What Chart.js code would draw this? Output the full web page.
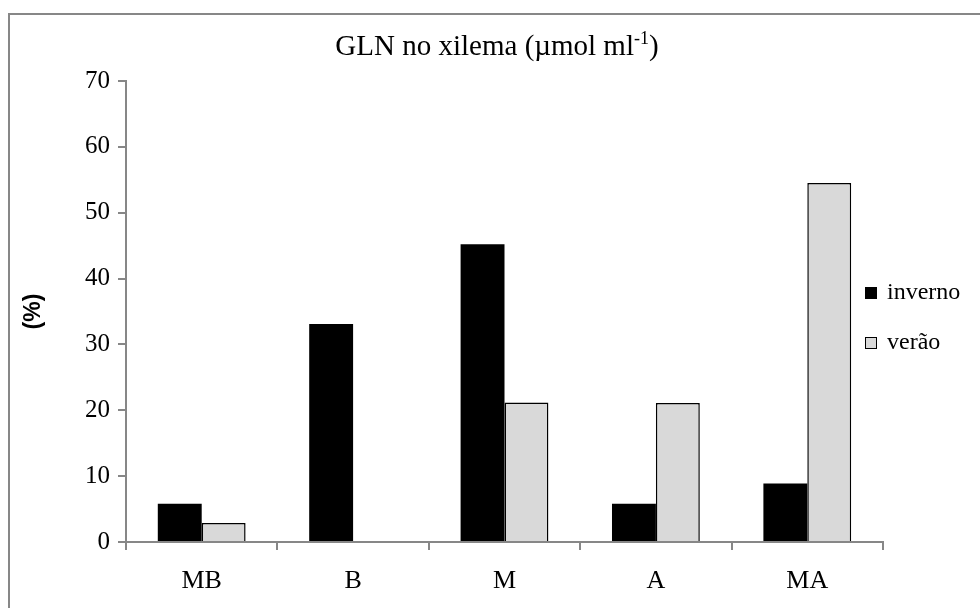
<!DOCTYPE html>
<html>
<head>
<meta charset="utf-8">
<script src="https://cdn.jsdelivr.net/npm/chart.js@4.4.1/dist/chart.umd.min.js"></script>
<style>
  html, body { margin: 0; padding: 0; background: #fff; overflow: hidden; }
  #wrap { position: relative; width: 980px; height: 608px; }
  #frame { position: absolute; left: 8px; top: 13px; width: 1200px; height: 800px;
           border-top: 2px solid #878787; border-left: 2px solid #878787; }
  canvas { position: absolute; left: 0; top: 0; }
</style>
</head>
<body>
<div id="wrap">
  <div id="frame"></div>
  <canvas id="chart" width="980" height="608"></canvas>
</div>
<script>
// Values
const categories = ['MB', 'B', 'M', 'A', 'MA'];
const invernoValues = [5.8, 33.1, 45.2, 5.8, 8.9];
const veraoValues = [2.9, 0, 21.2, 21.1, 54.5];
const seriesNames = ['inverno', 'verão'];
const yMin = 0;
const yMax = 70;
const yStep = 10;
const titleMain = 'GLN no xilema (µmol ml';
const titleSup = '-1';
const titleEnd = ')';
const yTitle = '(%)';

const axisGrey = '#878787';
const serif = '"Liberation Serif", "Times New Roman", serif';

// Title with a superscript, drawn on the canvas
const titlePlugin = {
    id: 'supTitle',
    afterDraw(chart) {
        const ctx = chart.ctx;
        ctx.save();
        ctx.fillStyle = '#000';
        ctx.textBaseline = 'alphabetic';
        ctx.textAlign = 'left';
        const big = '29px ' + serif;
        const small = '18px ' + serif;
        ctx.font = big;
        const w1 = ctx.measureText(titleMain).width;
        const w3 = ctx.measureText(titleEnd).width;
        ctx.font = small;
        const w2 = ctx.measureText(titleSup).width;
        let x = 497 - (w1 + w2 + w3) / 2;
        const base = 55;
        ctx.font = big;
        ctx.fillText(titleMain, x, base);
        x += w1;
        ctx.font = small;
        ctx.fillText(titleSup, x, base - 11);
        x += w2;
        ctx.font = big;
        ctx.fillText(titleEnd, x, base);
        ctx.restore();
    }
};

// Legend sitting at the right, built from the datasets
const legendPlugin = {
    id: 'sideLegend',
    afterDraw(chart) {
        const ctx = chart.ctx;
        ctx.save();
        ctx.font = '24px ' + serif;
        ctx.textBaseline = 'middle';
        ctx.textAlign = 'left';
        chart.data.datasets.forEach((ds, i) => {
            const cy = 293 + i * 50;
            ctx.fillStyle = ds.backgroundColor;
            ctx.fillRect(865, cy - 6, 12, 12);
            ctx.strokeStyle = '#000';
            ctx.lineWidth = 1;
            ctx.strokeRect(865.5, cy - 5.5, 11, 11);
            ctx.fillStyle = '#000';
            ctx.fillText(ds.label, 887, cy);
        });
        ctx.restore();
    }
};

const ctx = document.getElementById('chart').getContext('2d');
const chart = new Chart(ctx, {
    type: 'bar',
    data: {
        labels: categories,
        datasets: [
            {
                label: seriesNames[0],
                data: invernoValues,
                backgroundColor: '#000000',
                borderColor: '#000000',
                borderWidth: 0,
            },
            {
                label: seriesNames[1],
                data: veraoValues,
                backgroundColor: '#d9d9d9',
                borderColor: '#000000',
                borderWidth: 1.5,
            },
        ],
    },
    options: {
        responsive: false,
        animation: false,
        layout: {
            padding: { top: 81, right: 97, bottom: 0, left: 0 },
        },
        datasets: {
            bar: { categoryPercentage: 0.58, barPercentage: 1.0 },
        },
        plugins: {
            legend: { display: false },
            tooltip: { enabled: false },
            title: { display: false },
        },
        scales: {
            x: {
                grid: {
                    drawOnChartArea: false,
                    drawTicks: true,
                    tickLength: 8,
                    color: axisGrey,
                    lineWidth: 2,
                    offset: true,
                },
                border: { display: true, color: axisGrey, width: 2 },
                ticks: {
                    color: '#000',
                    font: { family: serif, size: 26 },
                    padding: 16,
                },
                afterFit(scale) { scale.height = 66; },
            },
            y: {
                min: yMin,
                max: yMax,
                grid: {
                    drawOnChartArea: false,
                    drawTicks: true,
                    tickLength: 8,
                    color: axisGrey,
                    lineWidth: 2,
                },
                border: { display: true, color: axisGrey, width: 2 },
                ticks: {
                    stepSize: yStep,
                    color: '#000',
                    font: { family: serif, size: 25 },
                    padding: 8,
                },
                title: {
                    display: true,
                    text: yTitle,
                    color: '#000',
                    font: { family: '"Liberation Sans", Arial, sans-serif', size: 23, weight: 'bold', lineHeight: 1.2 },
                    padding: { top: 20, bottom: 0 },
                },
                afterFit(scale) { scale.width = 126; },
            },
        },
    },
    plugins: [titlePlugin, legendPlugin],
});
</script>
</body>
</html>
